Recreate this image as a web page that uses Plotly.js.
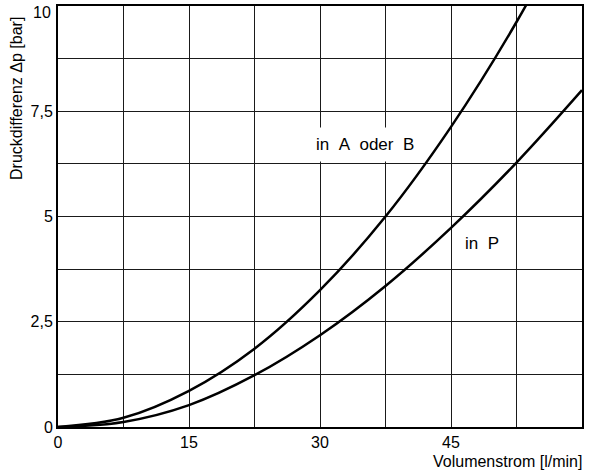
<!DOCTYPE html>
<html>
<head>
<meta charset="utf-8">
<script src="https://cdn.plot.ly/plotly-3.0.1.min.js"></script>
<style>html,body{margin:0;padding:0;background:#fff;}#chart{width:589px;height:474px;}</style>
</head>
<body>
<div id="chart"></div>
<script>
// Volumenstrom [l/min] and Druckdifferenz [bar]
const qAB = [0, 7.5, 15, 22.5, 30, 37.5, 45, 52.5, 60];
const dpAB = [0, 0.22, 0.86, 1.86, 3.25, 5.0, 7.13, 9.62, 12.5];
const qP = [0, 7.5, 15, 22.5, 30, 37.5, 45, 52.5, 60];
const dpP = [0, 0.12, 0.52, 1.23, 2.18, 3.35, 4.73, 6.28, 8.0];

const xGrid = [0, 7.5, 15, 22.5, 30, 37.5, 45, 52.5, 60];
const xLabels = ['0', '', '15', '', '30', '', '45', '', '60'];
const yGrid = [0, 1.25, 2.5, 3.75, 5, 6.25, 7.5, 8.75, 10];
const yLabels = ['0', '', '2,5', '', '5', '', '7,5', '', ''];
const yTopLabel = '10';

const NB = '\u00A0';
const labelAB = 'in' + NB + NB + 'A' + NB + NB + 'oder' + NB + NB + 'B';
const labelP = 'in' + NB + NB + 'P';
const xTitle = 'Volumenstrom [l/min]';
const yTitle = 'Druckdifferenz \u0394p [bar]';

const font = 'Liberation Sans, Arial, Helvetica, sans-serif';

const traces = [
  {x: qAB, y: dpAB, mode: 'lines', line: {color: '#000', width: 2.5, shape: 'spline', smoothing: 1}, hoverinfo: 'skip'},
  {x: qP, y: dpP, mode: 'lines', line: {color: '#000', width: 2.5, shape: 'spline', smoothing: 1}, hoverinfo: 'skip'}
];

const W = 589, H = 474, ML = 58, MR = 7, MT = 6, MB = 47;
const px = v => (v - ML) / (W - ML - MR);
const py = v => (H - MB - v) / (H - MT - MB);

const layout = {
  width: W, height: H,
  margin: {l: ML, r: MR, t: MT, b: MB},
  paper_bgcolor: '#fff', plot_bgcolor: '#fff',
  showlegend: false,
  font: {family: font, size: 16, color: '#000'},
  xaxis: {
    range: [0, 60], tickvals: xGrid, ticktext: xLabels,
    showgrid: true, gridcolor: '#1a1a1a', gridwidth: 1,
    zeroline: false, showline: true, linecolor: '#000', linewidth: 2, mirror: true,
    ticks: '', ticklen: 0, tickfont: {family: font, size: 16, color: '#000'}
  },
  yaxis: {
    range: [0, 10], tickvals: yGrid, ticktext: yLabels,
    showgrid: true, gridcolor: '#1a1a1a', gridwidth: 1,
    zeroline: false, showline: true, linecolor: '#000', linewidth: 2, mirror: true,
    ticks: '', ticklen: 0, tickfont: {family: font, size: 16, color: '#000'}
  },
  annotations: [
    {x: 35.2, y: 6.7, xref: 'x', yref: 'y', text: labelAB, showarrow: false,
     bgcolor: '#fff', borderpad: 7, font: {family: font, size: 17, color: '#000'}},
    {x: 48.5, y: 4.36, xref: 'x', yref: 'y', text: labelP, showarrow: false,
     bgcolor: '#fff', borderpad: 2, font: {family: font, size: 17, color: '#000'}},
    {x: 1, y: 0, xref: 'paper', yref: 'paper', xanchor: 'right', yanchor: 'top', yshift: -24, xshift: 2,
     text: xTitle, showarrow: false, font: {family: font, size: 16, color: '#000'}},
    {x: px(17), y: py(99), xref: 'paper', yref: 'paper', xanchor: 'center', yanchor: 'middle',
     text: yTitle, showarrow: false, textangle: -90, font: {family: font, size: 16, color: '#000'}},
    {x: px(53), y: py(12), xref: 'paper', yref: 'paper', xanchor: 'right', yanchor: 'middle',
     text: yTopLabel, showarrow: false, font: {family: font, size: 16, color: '#000'}}
  ]
};

Plotly.newPlot('chart', traces, layout, {displayModeBar: false, staticPlot: true});
</script>
</body>
</html>
